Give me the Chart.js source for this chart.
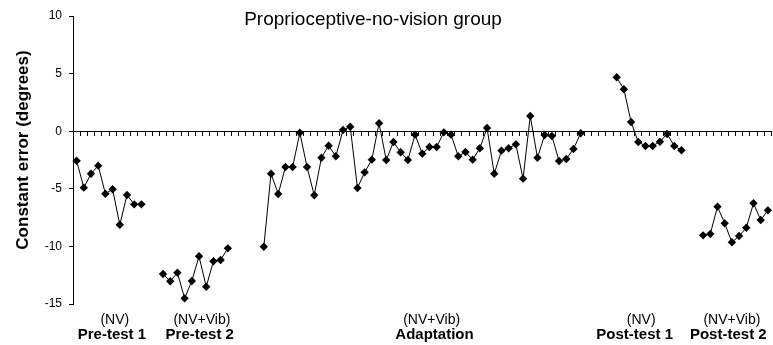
<!DOCTYPE html>
<html>
<head>
<meta charset="utf-8">
<script src="https://cdn.jsdelivr.net/npm/chart.js@4.4.1/dist/chart.umd.min.js"></script>
<style>
  html, body { margin: 0; padding: 0; background: #fff; }
</style>
</head>
<body>
<canvas id="chart" width="773" height="345"></canvas>
<script>
// constant error per trial (degrees)
const preTest1 = [-2.56, -4.90, -3.69, -2.99, -5.43, -5.04, -8.12, -5.54, -6.35, -6.35];
const preTest2 = [-12.40, -13.03, -12.28, -14.51, -13.00, -10.86, -13.50, -11.29, -11.18, -10.17];
const adaptation = [
  -10.03, -3.69, -5.45, -3.11, -3.11, -0.13, -3.11, -5.56, -2.30, -1.26,
  -2.18, 0.10, 0.39, -4.93, -3.57, -2.47, 0.69, -2.50, -0.94, -1.83,
  -2.50, -0.30, -1.95, -1.37, -1.37, -0.10, -0.30, -2.18, -1.81, -2.47,
  -1.48, 0.28, -3.69, -1.69, -1.48, -1.14, -4.12, 1.32, -2.30, -0.33,
  -0.42, -2.59, -2.41, -1.55, -0.18
];
const postTest1 = [4.68, 3.64, 0.80, -0.94, -1.28, -1.28, -0.91, -0.24, -1.28, -1.66];
const postTest2 = [-9.04, -8.92, -6.55, -8.00, -9.64, -9.10, -8.38, -6.26, -7.71, -6.87];

const sessions = ['Pre-test 1', 'Pre-test 2', 'Adaptation', 'Post-test 1', 'Post-test 2'];
const conditions = ['(NV)', '(NV+Vib)', '(NV+Vib)', '(NV)', '(NV+Vib)'];
const emptyTrials = [2, 4, 4, 2]; // blank slots between sessions
const yTicks = { min: -15, max: 10, step: 5 };

const chartTitle = 'Proprioceptive-no-vision group';
const yTitle = 'Constant error (degrees)';

// where the session captions sit, in category units
const conditionPos = [5.3, 17.4, 49.3, 78.4, 91.0];
const sessionPos = [4.9, 17.1, 49.7, 77.5, 90.5];

// one long trial axis, with nulls for the empty slots
const blocks = [preTest1, preTest2, adaptation, postTest1, postTest2];
const labels = [];
const values = [];
blocks.forEach(function(block, b) {
  block.forEach(function(v, i) {
    labels.push(sessions[b] + ' #' + (i + 1));
    values.push(v);
  });
  if (b < emptyTrials.length) {
    for (let k = 0; k < emptyTrials[b]; k++) {
      labels.push('gap ' + b + '.' + k);
      values.push(null);
    }
  }
});

const FONT = '"Liberation Sans", Arial, sans-serif';

const annotations = {
  id: 'annotations',
  afterDraw(chart) {
    const ctx = chart.ctx;
    const xs = chart.scales.x;
    ctx.save();
    ctx.fillStyle = '#000';
    ctx.textAlign = 'center';

    // title
    ctx.font = '19px ' + FONT;
    ctx.textBaseline = 'alphabetic';
    ctx.fillText(chartTitle, 373, 25);

    // y axis title
    ctx.save();
    ctx.font = 'bold 17px ' + FONT;
    ctx.textBaseline = 'middle';
    ctx.translate(23, 150);
    ctx.rotate(-Math.PI / 2);
    ctx.fillText(yTitle, 0, 0);
    ctx.restore();

    // session captions
    ctx.textBaseline = 'middle';
    for (let i = 0; i < sessions.length; i++) {
      ctx.font = '14px ' + FONT;
      ctx.fillText(conditions[i], xs.getPixelForValue(conditionPos[i]), 320);
      ctx.font = 'bold 15px ' + FONT;
      ctx.fillText(sessions[i], xs.getPixelForValue(sessionPos[i]), 335);
    }
    ctx.restore();
  }
};

new Chart(document.getElementById('chart'), {
  type: 'line',
  data: {
    labels: labels,
    datasets: [{
      data: values,
      borderColor: '#000',
      backgroundColor: '#000',
      borderWidth: 1,
      pointStyle: 'rectRot',
      pointRadius: 4.2,
      pointBorderWidth: 0,
      spanGaps: false,
      tension: 0
    }]
  },
  options: {
    responsive: false,
    animation: false,
    layout: { autoPadding: false, padding: { left: 0, right: 1.5, top: 16, bottom: 41 } },
    plugins: {
      legend: { display: false },
      tooltip: { enabled: false }
    },
    scales: {
      x: {
        type: 'category',
        offset: true,
        position: { y: 0 },
        grid: { offset: true, drawOnChartArea: false, tickLength: 4, color: '#000' },
        border: { color: '#000' },
        ticks: { display: false, autoSkip: false }
      },
      y: {
        min: yTicks.min,
        max: yTicks.max,
        afterFit: function(scale) { scale.width = 73; },
        ticks: {
          stepSize: yTicks.step,
          color: '#000',
          padding: 7,
          font: { family: FONT, size: 12 }
        },
        grid: { drawOnChartArea: false, tickLength: 4, color: '#000' },
        border: { color: '#000' }
      }
    }
  },
  plugins: [annotations]
});
</script>
</body>
</html>
